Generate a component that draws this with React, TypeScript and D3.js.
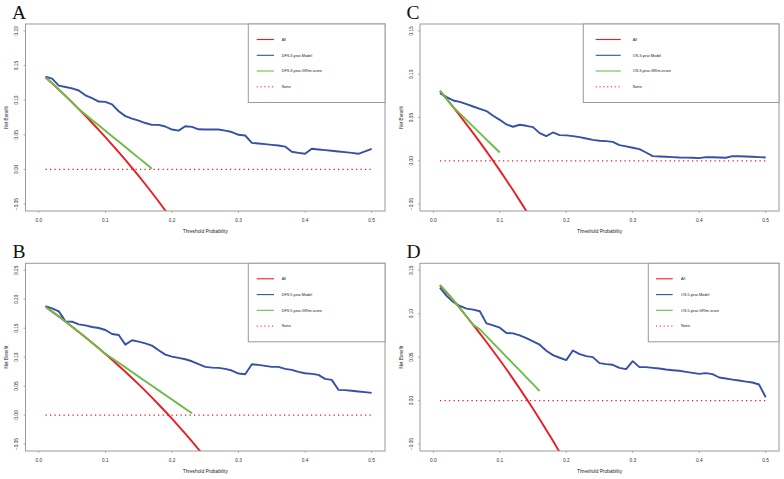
import React from 'react';
import * as d3 from 'd3';

// Threshold probabilities (x categories)
const thresholds = [
  0.01, 0.02, 0.03, 0.04, 0.05, 0.06, 0.07, 0.08, 0.09, 0.1,
  0.11, 0.12, 0.13, 0.14, 0.15, 0.16, 0.17, 0.18, 0.19, 0.2,
  0.21, 0.22, 0.23, 0.24, 0.25, 0.26, 0.27, 0.28, 0.29, 0.3,
  0.31, 0.32, 0.33, 0.34, 0.35, 0.36, 0.37, 0.38, 0.39, 0.4,
  0.41, 0.42, 0.43, 0.44, 0.45, 0.46, 0.47, 0.48, 0.49, 0.5,
];

// Panel A: DFS 3-year
const A_model = [
  0.134, 0.131, 0.121, 0.119, 0.117, 0.114, 0.107, 0.103, 0.098, 0.0975,
  0.094, 0.084, 0.077, 0.0735, 0.0706, 0.067, 0.0644, 0.0644, 0.062, 0.0576,
  0.056, 0.0624, 0.0615, 0.058, 0.0576, 0.0576, 0.0576, 0.056, 0.054, 0.05,
  0.049, 0.0384, 0.0375, 0.0365, 0.0355, 0.0346, 0.033, 0.0255, 0.024, 0.0226,
  0.0298, 0.0288, 0.0279, 0.027, 0.026, 0.025, 0.024, 0.0226, 0.026, 0.0298,
];
const A_all = [
  0.133, 0.1245, 0.1155, 0.1063, 0.0968, 0.0872, 0.0774, 0.0674, 0.0571, 0.0467,
  0.036, 0.025, 0.0138, 0.0023, -0.0094, -0.0214, -0.0337, -0.0463, -0.0593, -0.0725,
];
const A_grim = [
  0.133, 0.1245, 0.1155, 0.1063, 0.0968, 0.0872, 0.0794, 0.0715, 0.0637, 0.0559,
  0.048, 0.0402, 0.0323, 0.0245, 0.0167, 0.0088, 0.001,
];

// Panel B: DFS 5-year
const B_model = [
  0.1882, 0.1842, 0.179, 0.1618, 0.1612, 0.1566, 0.1549, 0.152, 0.1503, 0.1469,
  0.14, 0.1383, 0.1216, 0.1291, 0.1268, 0.1239, 0.1199, 0.1119, 0.1044, 0.101,
  0.0987, 0.0964, 0.0929, 0.0878, 0.0832, 0.082, 0.0815, 0.0797, 0.0769, 0.0717,
  0.0706, 0.0878, 0.0866, 0.0849, 0.0832, 0.0832, 0.0797, 0.078, 0.0746, 0.0723,
  0.0711, 0.0694, 0.0625, 0.0608, 0.0436, 0.043, 0.0419, 0.0407, 0.0396, 0.0384,
];
const B_all = [
  0.1869, 0.1786, 0.1701, 0.1615, 0.1526, 0.1436, 0.1344, 0.125, 0.1154, 0.1056,
  0.0955, 0.0852, 0.0747, 0.064, 0.0529, 0.0417, 0.0301, 0.0183, 0.0062, -0.0063,
  -0.019, -0.0321, -0.0455, -0.0592, -0.0733,
];
const B_grim = [
  0.1869, 0.1786, 0.1701, 0.1615, 0.1526, 0.1436, 0.1344, 0.125, 0.1154, 0.1056,
  0.0981, 0.0902, 0.0823, 0.0743, 0.0664, 0.0585, 0.0506, 0.0427, 0.0347, 0.0268,
  0.0189, 0.011, 0.003,
];

// Panel C: OS 3-year
const C_model = [
  0.0781, 0.0735, 0.0697, 0.0681, 0.0654, 0.0627, 0.06, 0.0574, 0.052, 0.0473,
  0.042, 0.0393, 0.0416, 0.0404, 0.0389, 0.0319, 0.0285, 0.0327, 0.0296, 0.0293,
  0.0285, 0.0273, 0.0258, 0.0242, 0.0231, 0.0227, 0.0219, 0.0181, 0.0166, 0.015,
  0.0135, 0.0096, 0.0054, 0.005, 0.0046, 0.0042, 0.0038, 0.0037, 0.0035, 0.0031,
  0.0042, 0.004, 0.0038, 0.0035, 0.0054, 0.0052, 0.005, 0.0046, 0.0042, 0.0038,
];
const C_all = [
  0.0808, 0.0714, 0.0619, 0.0521, 0.0421, 0.0319, 0.0215, 0.0109, 0.0, -0.0111,
  -0.0225, -0.0341, -0.046, -0.0581, -0.0706,
];
const C_grim = [
  0.0808, 0.0714, 0.0619, 0.0544, 0.047, 0.0395, 0.032, 0.0245, 0.0171, 0.0096,
];

// Panel D: OS 5-year
const D_model = [
  0.1301, 0.1205, 0.1135, 0.1089, 0.1058, 0.1047, 0.1028, 0.0889, 0.0866, 0.0839,
  0.0778, 0.0774, 0.0751, 0.072, 0.0681, 0.0643, 0.0574, 0.0523, 0.0493, 0.0466,
  0.0577, 0.0535, 0.0512, 0.05, 0.0431, 0.042, 0.0412, 0.0377, 0.0362, 0.0454,
  0.0385, 0.0385, 0.0377, 0.037, 0.0358, 0.035, 0.0343, 0.0331, 0.0319, 0.0308,
  0.0316, 0.0304, 0.0266, 0.0254, 0.0242, 0.0231, 0.0219, 0.0208, 0.0185, 0.0038,
];
const D_all = [
  0.133, 0.1245, 0.1155, 0.1063, 0.0968, 0.0872, 0.0774, 0.0674, 0.0571, 0.0467,
  0.036, 0.025, 0.0138, 0.0023, -0.0094, -0.0214, -0.0337, -0.0463, -0.0593, -0.0725,
];
const D_grim = [
  0.133, 0.1245, 0.1155, 0.1063, 0.0968, 0.0872, 0.082, 0.0741, 0.0662, 0.0583,
  0.0504, 0.0426, 0.0347, 0.0268, 0.0189, 0.011,
];

const xTicks = [0, 0.1, 0.2, 0.3, 0.4, 0.5];
const yTicksA = [-0.05, 0, 0.05, 0.1, 0.15, 0.2];
const yTicksB = [-0.05, 0, 0.05, 0.1, 0.15, 0.2, 0.25];
const yTicksC = [-0.05, 0, 0.05, 0.1, 0.15];
const yTicksD = [-0.05, 0, 0.05, 0.1, 0.15];

const legendLabelsA = ['All', 'DFS.3.year.Model', 'DFS.3.year.GRIm.score', 'None'];
const legendLabelsB = ['All', 'DFS.5.year.Model', 'DFS.5.year.GRIm.score', 'None'];
const legendLabelsC = ['All', 'OS.3.year.Model', 'OS.3.year.GRIm.score', 'None'];
const legendLabelsD = ['All', 'OS.5.year.Model', 'OS.5.year.GRIm.score', 'None'];

const RED = '#ec1c24';
const BLUE = '#3550a6';
const GREEN = '#6cbd45';
const GRAY = '#9a9a9a';
const FONT = '"Liberation Sans", Arial, Helvetica, sans-serif';

const panels = [
  {
    id: 'A', model: A_model, all: A_all, grim: A_grim, yTicks: yTicksA, labels: legendLabelsA,
    box: { x0: 25.5, x1: 385, y0: 24, y1: 211 },
    legend: { x0: 248.3, x1: 385, lx0: 256.7, lx1: 274, tx: 281.7 },
    letter: { x: 12, y: 18.5 },
  },
  {
    id: 'B', model: B_model, all: B_all, grim: B_grim, yTicks: yTicksB, labels: legendLabelsB,
    box: { x0: 25.5, x1: 385, y0: 263.3, y1: 451 },
    legend: { x0: 248.3, x1: 385, lx0: 256.7, lx1: 274, tx: 281.7 },
    letter: { x: 12.5, y: 257.5 },
  },
  {
    id: 'C', model: C_model, all: C_all, grim: C_grim, yTicks: yTicksC, labels: legendLabelsC,
    box: { x0: 420, x1: 779, y0: 24, y1: 211 },
    legend: { x0: 583.3, x1: 779, lx0: 595.7, lx1: 620.7, tx: 632.7 },
    letter: { x: 406.5, y: 18.5 },
  },
  {
    id: 'D', model: D_model, all: D_all, grim: D_grim, yTicks: yTicksD, labels: legendLabelsD,
    box: { x0: 420, x1: 779, y0: 263.3, y1: 451 },
    legend: { x0: 648.3, x1: 779, lx0: 656, lx1: 672.7, tx: 681 },
    letter: { x: 406.5, y: 257.5 },
  },
];

function Panel({ cfg }: { cfg: any }) {
  const { box, legend } = cfg;
  const x = d3.scaleLinear().domain([-0.02, 0.52]).range([box.x0, box.x1]);
  const lo = cfg.yTicks[0];
  const hi = cfg.yTicks[cfg.yTicks.length - 1];
  const pad = (hi - lo) * 0.04;
  const y = d3.scaleLinear().domain([lo - pad, hi + pad]).range([box.y1, box.y0]);
  const line = d3
    .line<number>()
    .x((_, i) => x(thresholds[i]))
    .y((d) => y(d));
  const noneLine = d3.line<number>().x((d) => x(d)).y(() => y(0));
  const clipId = `clip-${cfg.id}`;
  const fx = d3.format('.1f');
  const fy = d3.format('.2f');
  const cx = (box.x0 + box.x1) / 2;
  const cy = (box.y0 + box.y1) / 2;
  const legendY0 = box.y0;
  const legendY1 = box.y0 + 78.5;
  const entryOffsets = [15.5, 31.3, 47, 62.8];
  const styles = [
    { stroke: RED, dash: undefined },
    { stroke: BLUE, dash: undefined },
    { stroke: GREEN, dash: undefined },
    { stroke: RED, dash: '1.2 2.6' },
  ];
  return (
    <g>
      <defs>
        <clipPath id={clipId}>
          <rect x={box.x0} y={box.y0} width={box.x1 - box.x0} height={box.y1 - box.y0} />
        </clipPath>
      </defs>
      <text x={cfg.letter.x} y={cfg.letter.y} fontFamily='"Liberation Serif", "Times New Roman", serif' fontSize={19.5} fill="#111">
        {cfg.id}
      </text>
      {/* curves */}
      <g clipPath={`url(#${clipId})`} fill="none" strokeLinejoin="round">
        <path d={line(cfg.all) || ''} stroke={RED} strokeWidth={1.9} />
        <path d={line(cfg.model) || ''} stroke={BLUE} strokeWidth={1.9} />
        <path d={line(cfg.grim) || ''} stroke={GREEN} strokeWidth={1.9} />
        <path d={noneLine([thresholds[0], thresholds[thresholds.length - 1]]) || ''} stroke={RED} strokeWidth={1.3} strokeDasharray="1.3 3.2" />
      </g>
      {/* box */}
      <rect x={box.x0} y={box.y0} width={box.x1 - box.x0} height={box.y1 - box.y0} fill="none" stroke={GRAY} strokeWidth={1} />
      {/* x axis */}
      {xTicks.map((t) => (
        <g key={`x${t}`}>
          <line x1={x(t)} x2={x(t)} y1={box.y1} y2={box.y1 + 2} stroke={GRAY} strokeWidth={0.8} />
          <text x={x(t)} y={box.y1 + 10.8} textAnchor="middle" fontFamily={FONT} fontSize={4.8} fill="#333">
            {fx(t)}
          </text>
        </g>
      ))}
      {/* y axis */}
      {cfg.yTicks.map((t: number) => (
        <g key={`y${t}`}>
          <line x1={box.x0 - 2} x2={box.x0} y1={y(t)} y2={y(t)} stroke={GRAY} strokeWidth={0.8} />
          <text
            transform={`translate(${box.x0 - 7.5},${y(t)}) rotate(-90)`}
            textAnchor="middle"
            fontFamily={FONT}
            fontSize={4.8}
            fill="#333"
          >
            {fy(t)}
          </text>
        </g>
      ))}
      <text x={cx} y={box.y1 + 21.5} textAnchor="middle" fontFamily={FONT} fontSize={4.8} fill="#222">
        Threshold Probability
      </text>
      <text transform={`translate(${box.x0 - 17.5},${cy}) rotate(-90)`} textAnchor="middle" fontFamily={FONT} fontSize={4.6} fill="#222">
        Net Benefit
      </text>
      {/* legend */}
      <rect x={legend.x0} y={legendY0} width={legend.x1 - legend.x0} height={legendY1 - legendY0} fill="#fff" stroke={GRAY} strokeWidth={1} />
      {cfg.labels.map((lab: string, i: number) => (
        <g key={lab}>
          <line
            x1={legend.lx0}
            x2={legend.lx1}
            y1={legendY0 + entryOffsets[i]}
            y2={legendY0 + entryOffsets[i]}
            stroke={styles[i].stroke}
            strokeWidth={i === 3 ? 1 : 1.1}
            strokeDasharray={styles[i].dash}
          />
          <text x={legend.tx} y={legendY0 + entryOffsets[i] + 1.3} fontFamily={FONT} fontSize={3.8} fill="#222">
            {lab}
          </text>
        </g>
      ))}
    </g>
  );
}

export default function App() {
  return (
    <svg
      width={784}
      height={479}
      viewBox="0 0 784 479"
      style={{ position: 'absolute', left: 0, top: 0, background: '#fff' }}
    >
      <rect x={0} y={0} width={784} height={479} fill="#fff" />
      {panels.map((p) => (
        <Panel key={p.id} cfg={p} />
      ))}
    </svg>
  );
}
